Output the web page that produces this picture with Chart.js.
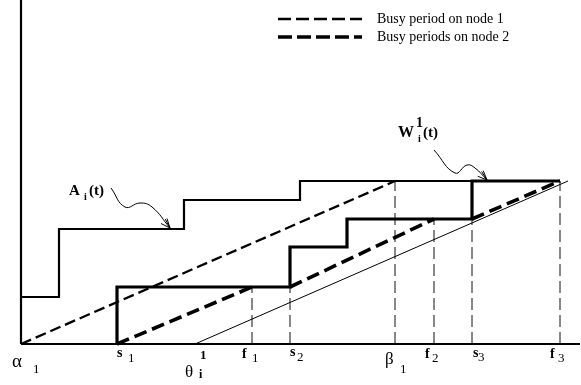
<!DOCTYPE html>
<html>
<head>
<meta charset="utf-8">
<script src="https://cdn.jsdelivr.net/npm/chart.js@4/dist/chart.umd.min.js"></script>
<style>
html,body{margin:0;padding:0;background:#fff;}
</style>
</head>
<body>
<canvas id="c" width="581" height="385"></canvas>
<script>
const xMax = 27.95, yMax = 17.2;

// instants marked on the time axis
const tickMain = ["α", "s", "θ", "f", "s", "β", "f", "s", "f"];
const tickSub = ["1", "1", "i", "1", "2", "1", "2", "3", "3"];
const tickValues = [0, 4.8, 8.7, 11.55, 13.45, 18.7, 20.65, 22.55, 26.95];

// arrival curve A_i(t)
const arrivalTimes = [0, 1.9, 8.15, 13.95, 26.95];
const arrivalLevels = [2.35, 5.75, 7.2, 8.15, 8.15];

// work curve W_i^1(t)
const workTimes = [4.8, 4.8, 13.45, 16.3, 22.55, 26.95];
const workLevels = [0, 2.85, 4.85, 6.25, 8.15, 8.15];

// busy period on node 1
const node1Times = [0, 18.7];
const node1Levels = [0, 8.15];

// busy periods on node 2
const node2Start = [4.8, 13.45, 22.55];
const node2End = [11.55, 20.65, 26.95];
const node2From = [0, 2.85, 6.25];
const node2To = [2.85, 6.25, 8.15];

// thin line from theta
const thetaTimes = [8.7, 27.35];
const thetaLevels = [0, 8.15];

// dashed drop lines
const dropTimes = [11.55, 13.45, 18.7, 20.65, 22.55, 26.95];
const dropLevels = [2.85, 2.85, 8.15, 6.25, 6.25, 8.15];

// curvy pointers to the curves
const arrowAX = [4.5, 5.2, 5.95, 6.55, 7.45];
const arrowAY = [7.8, 6.85, 7.05, 6.85, 5.8];
const arrowWX = [20.65, 21.7, 22.3, 22.7, 23.3];
const arrowWY = [9.7, 8.55, 8.95, 8.8, 8.2];

const legendLabels = ["Busy period on node 1", "Busy periods on node 2"];

const pts = (xs, ys) => xs.map((v, i) => ({x: v, y: ys[i]}));
const seg = (data, style) => Object.assign({
  data, showLine: true, pointRadius: 0, borderColor: "#000", borderWidth: 1,
  fill: false, clip: false, tension: 0, borderJoinStyle: "miter"
}, style);

const datasets = [];
datasets.push(seg(pts(workTimes, workLevels), {borderWidth: 3.2, stepped: true}));
datasets.push(seg(pts(arrivalTimes, arrivalLevels), {borderWidth: 2.2, stepped: true}));
node2Start.forEach((t, i) => {
  datasets.push(seg([{x: t, y: node2From[i]}, {x: node2End[i], y: node2To[i]}], {borderWidth: 3.6, borderDash: [13, 6]}));
});
datasets.push(seg(pts(node1Times, node1Levels), {borderWidth: 2.3, borderDash: [11, 5]}));
datasets.push(seg(pts(thetaTimes, thetaLevels), {borderWidth: 1}));
dropTimes.forEach((t, i) => {
  datasets.push(seg([{x: t, y: 0}, {x: t, y: dropLevels[i]}], {borderWidth: 1, borderDash: [12, 5], borderColor: "#111"}));
});
datasets.push(seg([{x: 0, y: 0}, {x: xMax, y: 0}], {borderWidth: 2.2}));
datasets.push(seg([{x: 0, y: 0}, {x: 0, y: yMax}], {borderWidth: 2.2}));
datasets.push(seg(pts(arrowAX, arrowAY), {borderWidth: 1, tension: 0.45}));
datasets.push(seg(pts(arrowWX, arrowWY), {borderWidth: 1, tension: 0.45}));

// label offsets in pixels from the tick position
const tickStyle = [
  {dx: -9, dy: 23, size: 19, bold: false, sdx: 12, sdy: 29, ssize: 13, sbold: false},
  {dx: 0, dy: 13, size: 14, bold: true, sdx: 11, sdy: 18, ssize: 13, sbold: false},
  {dx: -10, dy: 33, size: 17, bold: false, sdx: 4, sdy: 34, ssize: 12, sbold: true},
  {dx: -10, dy: 14, size: 14, bold: true, sdx: 0, sdy: 18, ssize: 13, sbold: false},
  {dx: 0, dy: 12, size: 14, bold: true, sdx: 7, sdy: 17, ssize: 13, sbold: false},
  {dx: -10, dy: 20, size: 17, bold: false, sdx: 5, sdy: 29, ssize: 13, sbold: false},
  {dx: -9, dy: 14, size: 14, bold: true, sdx: -2, sdy: 18, ssize: 13, sbold: false},
  {dx: 1, dy: 13, size: 14, bold: true, sdx: 6, sdy: 17, ssize: 13, sbold: false},
  {dx: -10, dy: 14, size: 14, bold: true, sdx: -2, sdy: 18, ssize: 13, sbold: false}
];

const serif = '"Liberation Serif", "Times New Roman", serif';

const notes = {
  id: "notes",
  afterDatasetsDraw(chart) {
    const {ctx} = chart;
    const sx = chart.scales.x, sy = chart.scales.y;
    const px = v => sx.getPixelForValue(v), py = v => sy.getPixelForValue(v);
    const put = (t, X, Y, size, bold) => {
      ctx.font = (bold ? "bold " : "") + size + "px " + serif;
      ctx.fillText(t, X, Y);
    };
    ctx.save();
    ctx.fillStyle = "#000";
    ctx.textBaseline = "alphabetic";

    const base = py(0);
    tickValues.forEach((v, i) => {
      const s = tickStyle[i], X = px(v);
      put(tickMain[i], X + s.dx, base + s.dy, s.size, s.bold);
      put(tickSub[i], X + s.sdx, base + s.sdy, s.ssize, s.sbold);
    });
    put("1", px(tickValues[2]) + 5, base + 15, 13, true);

    // A_i(t)
    let X = px(2.4), Y = py(7.45);
    put("A", X, Y, 15, true);
    put("i", X + 15, Y + 5, 10, true);
    put("(t)", X + 20, Y, 15, true);

    // W_i^1(t)
    X = px(18.85); Y = py(10.35);
    put("W", X, Y, 16, true);
    put("1", X + 18, Y - 10, 14, true);
    put("i", X + 20, Y + 5, 10, true);
    put("(t)", X + 25, Y, 15, true);

    // arrow heads
    ctx.strokeStyle = "#000";
    ctx.lineWidth = 1;
    [[arrowAX, arrowAY], [arrowWX, arrowWY]].forEach(([ax, ay]) => {
      const n = ax.length;
      const x1 = px(ax[n - 1]), y1 = py(ay[n - 1]);
      const x0 = px(ax[n - 2]), y0 = py(ay[n - 2]);
      const a = Math.atan2(y1 - y0, x1 - x0);
      ctx.beginPath();
      [0.4, -0.4, 0.22].forEach(d => {
        ctx.moveTo(x1, y1);
        ctx.lineTo(x1 - 10 * Math.cos(a + d), y1 - 10 * Math.sin(a + d));
      });
      ctx.stroke();
    });

    // legend
    const leg = [{w: 2.3, dash: [13, 5], y: 19}, {w: 3.6, dash: [14, 5], y: 37}];
    leg.forEach((l, i) => {
      ctx.beginPath();
      ctx.lineWidth = l.w;
      ctx.setLineDash(l.dash);
      ctx.moveTo(278, l.y);
      ctx.lineTo(362, l.y);
      ctx.stroke();
      ctx.setLineDash([]);
      put(legendLabels[i], 377, l.y + 4, 14, false);
    });
    ctx.restore();
  }
};

new Chart(document.getElementById("c"), {
  type: "scatter",
  data: {datasets},
  options: {
    responsive: false,
    animation: false,
    events: [],
    layout: {padding: {left: 21, right: 1, top: 0, bottom: 41}},
    scales: {
      x: {type: "linear", min: 0, max: xMax, display: false},
      y: {type: "linear", min: 0, max: yMax, display: false}
    },
    plugins: {legend: {display: false}, tooltip: {enabled: false}}
  },
  plugins: [notes]
});
</script>
</body>
</html>
